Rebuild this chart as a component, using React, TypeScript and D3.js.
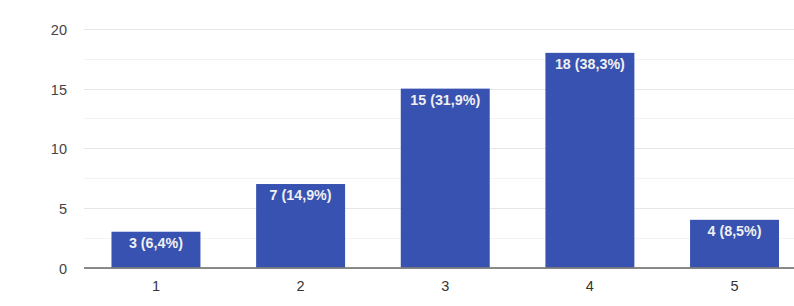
import React from "react";
import * as d3 from "d3";

const categories = ["1", "2", "3", "4", "5"];
const counts = [3, 7, 15, 18, 4];
const labels = ["3 (6,4%)", "7 (14,9%)", "15 (31,9%)", "18 (38,3%)", "4 (8,5%)"];
const yTicks = [0, 5, 10, 15, 20];
const yMinor = [2.5, 7.5, 12.5, 17.5];

const W = 794;
const H = 306;
const left = 84;
const right = 806.5;
const top = 29;
const bottom = 267.5;
const font = "Arial, 'Liberation Sans', sans-serif";

export default function App() {
  const x = d3.scaleBand<string>().domain(categories).range([left, right]).paddingInner(0.385).paddingOuter(0.19);
  const y = d3.scaleLinear().domain([0, 20]).range([bottom, top]);
  return (
    <div style={{ position: "absolute", left: 0, top: 0, width: W, height: H, overflow: "hidden", background: "#fff" }}>
      <svg width={W} height={H} style={{ display: "block" }}>
        <rect x={0} y={0} width={W} height={H} fill="#fff" />
        {yMinor.map((v) => (
          <line key={"m" + v} x1={left} x2={right} y1={Math.round(y(v)) + 0.5} y2={Math.round(y(v)) + 0.5} stroke="#f3f3f3" />
        ))}
        {yTicks.map((v) => (
          <line key={"g" + v} x1={left} x2={right} y1={Math.round(y(v)) + 0.5} y2={Math.round(y(v)) + 0.5} stroke="#e6e6e6" />
        ))}
        {yTicks.map((v) => (
          <text key={"t" + v} x={67} y={y(v) + 1} dy="0.36em" textAnchor="end" fontFamily={font} fontSize={14.5} fill="#444">
            {v}
          </text>
        ))}
        {categories.map((c, i) => (
          <g key={c}>
            <rect x={x(c)} y={y(counts[i])} width={x.bandwidth()} height={bottom - y(counts[i])} fill="#3752b1" />
            <text x={(x(c) as number) + x.bandwidth() / 2} y={y(counts[i]) + 16} textAnchor="middle" fontFamily={font} fontSize={14.3} fontWeight="bold" fill="#f0f0f0">
              {labels[i]}
            </text>
            <text x={(x(c) as number) + x.bandwidth() / 2} y={290.5} textAnchor="middle" fontFamily={font} fontSize={14.5} fill="#333">
              {c}
            </text>
          </g>
        ))}
        <line x1={left} x2={right} y1={268} y2={268} stroke="#666" strokeWidth={1.5} />
      </svg>
    </div>
  );
}
